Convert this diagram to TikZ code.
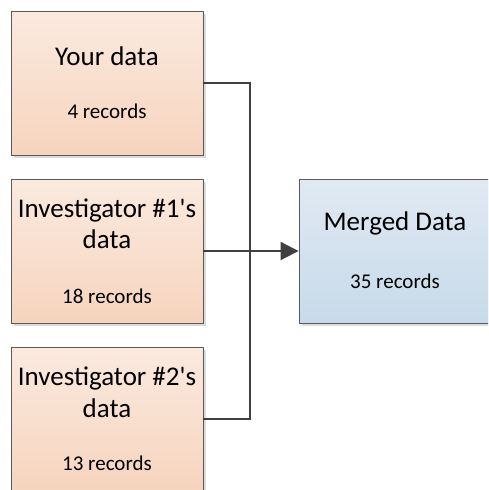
\documentclass[tikz,border=0pt]{standalone}
\usepackage{fontspec}
\setmainfont{Carlito}
\usetikzlibrary{arrows.meta,shadows}
\definecolor{peachtop}{HTML}{FBEADF}
\definecolor{peachbot}{HTML}{F6D4BE}
\definecolor{bluetop}{HTML}{E0E9F3}
\definecolor{bluebot}{HTML}{C8DAEA}
\definecolor{edgegray}{HTML}{5A5A5A}
\definecolor{linkgray}{HTML}{404040}
\tikzset{
  box/.style={rectangle, minimum width=192pt, minimum height=144pt, draw=edgegray,
    line width=0.9pt, inner sep=0pt,
    drop shadow={shadow xshift=3pt, shadow yshift=-3pt, fill=black!14, opacity=1}},
  srcbox/.style={box, top color=peachtop, bottom color=peachbot},
  dstbox/.style={box, top color=bluetop, bottom color=bluebot},
  title/.style={font=\fontsize{27}{32}\selectfont, anchor=base, inner sep=0pt},
  count/.style={font=\fontsize{21}{25}\selectfont, anchor=base, inner sep=0pt},
  link/.style={draw=linkgray, line width=2pt},
}
\begin{document}
\begin{tikzpicture}[x=1pt,y=-1pt]
  \useasboundingbox (0,0) rectangle (488,490);
  \clip (0,0) rectangle (488,490);
  \fill[white] (0,0) rectangle (488,490);

  % source and result boxes
  \node[srcbox] (b1) at (107,83) {};
  \node[srcbox] (b2) at (107,251) {};
  \node[srcbox] (b3) at (107,419) {};
  \node[dstbox] (m) at (395,251) {};

  % box texts
  \node[title] (t1) at (107,65) {Your data};
  \node[count] (c1) at (107,118) {4 records};
  \node[title] (t2a) at (107,217) {Investigator \#1\textquotesingle s};
  \node[title] (t2b) at (107,248) {data};
  \node[count] (c2) at (107,303) {18 records};
  \node[title] (t3a) at (107,385) {Investigator \#2\textquotesingle s};
  \node[title] (t3b) at (107,417) {data};
  \node[count] (c3) at (107,470) {13 records};
  \node[title] (tm) at (395,230) {Merged Data};
  \node[count] (cm) at (395,288) {35 records};

  % connectors
  \coordinate (j) at (250,251);
  \draw[link] (b1.east) -| (j) |- (b3.east);
  \draw[link, -{Triangle[length=18pt, width=18pt]}] (b2.east) -- (m.west);
\end{tikzpicture}
\end{document}
